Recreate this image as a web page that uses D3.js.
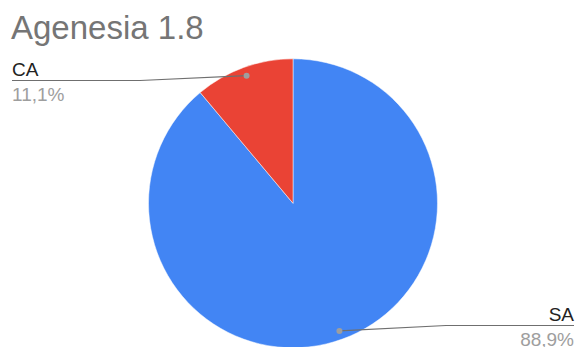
<!DOCTYPE html>
<html>
<head>
<meta charset="utf-8">
<script src="https://cdn.jsdelivr.net/npm/d3@7"></script>
<style>
  html, body { margin: 0; padding: 0; background: #fff; }
  svg { display: block; }
</style>
</head>
<body>
<svg id="chart" width="576" height="347"></svg>
<script>
// Series data
const categories = ["SA", "CA"];
const values = [88.9, 11.1];
const colors = ["#4285F4", "#EA4335"];
const title = "Agenesia 1.8";

const W = 576, H = 347;
const cx = 293, cy = 203.3, R = 144.5;
const font = "'Liberation Sans', Arial, sans-serif";

const svg = d3.select("#chart");

svg.append("text")
  .attr("x", 11)
  .attr("y", 38.5)
  .attr("font-family", font)
  .attr("font-size", 33)
  .attr("fill", "#757575")
  .text(title);

const data = categories.map((c, i) => ({ name: c, value: values[i], color: colors[i] }));
const pie = d3.pie().sort(null).value(d => d.value);
const arcs = pie(data);
const arc = d3.arc().innerRadius(0).outerRadius(R);

const g = svg.append("g").attr("transform", `translate(${cx},${cy})`);
g.selectAll("path.slice")
  .data(arcs)
  .enter().append("path")
  .attr("class", "slice")
  .attr("d", arc)
  .attr("fill", d => d.data.color)
  .attr("stroke", "#fff")
  .attr("stroke-width", 0.5);

// Leader lines and labels
const total = d3.sum(values);
const fmt = v => (v / total * 100).toFixed(1).replace(".", ",") + "%";
const dotArc = d3.arc().innerRadius(R * 0.94).outerRadius(R * 0.94);

const labelSpec = {
  SA: { side: "right", lineY: 325.5, elbowX: 446, endX: 574 },
  CA: { side: "left", lineY: 80.5, elbowX: 140, endX: 12 }
};

arcs.forEach(a => {
  const spec = labelSpec[a.data.name];
  const [dx, dy] = dotArc.centroid(a);
  const px = cx + dx, py = cy + dy;
  svg.append("path")
    .attr("d", `M${px},${py}L${spec.elbowX},${spec.lineY}L${spec.endX},${spec.lineY}`)
    .attr("fill", "none")
    .attr("stroke", "#6f6f6f")
    .attr("stroke-width", 1.2);
  svg.append("circle")
    .attr("cx", px).attr("cy", py).attr("r", 3)
    .attr("fill", "#9e9e9e");
  const anchor = spec.side === "right" ? "end" : "start";
  svg.append("text")
    .attr("x", spec.endX)
    .attr("y", spec.lineY - 5)
    .attr("text-anchor", anchor)
    .attr("font-family", font)
    .attr("font-size", 19)
    .attr("fill", "#222")
    .text(a.data.name);
  svg.append("text")
    .attr("x", spec.endX)
    .attr("y", spec.lineY + 20.3)
    .attr("text-anchor", anchor)
    .attr("font-family", font)
    .attr("font-size", 19)
    .attr("fill", "#9e9e9e")
    .text(fmt(a.data.value));
});
</script>
</body>
</html>
